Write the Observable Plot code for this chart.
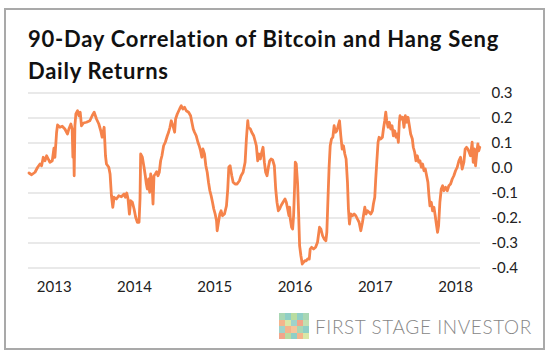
<!DOCTYPE html>
<html><head><meta charset="utf-8">
<script src="https://cdn.jsdelivr.net/npm/d3@7"></script>
<script src="https://cdn.jsdelivr.net/npm/@observablehq/plot@0.6"></script>
<style>
body{margin:0;background:#fff;}
#frame{position:relative;width:550px;height:355px;overflow:hidden;font-family:Lato,"Noto Sans",sans-serif;background:#fff;}
#box{position:absolute;left:4px;top:8px;width:537px;height:338px;border:2px solid #a9a9a9;}
#title{position:absolute;left:28px;top:23px;font-weight:700;font-size:22px;letter-spacing:0.75px;line-height:32px;color:#111;white-space:nowrap;}
#chart{position:absolute;left:0;top:85px;}
#logo{position:absolute;left:279px;top:313px;display:flex;align-items:center;}
#icon{display:grid;grid-template-columns:repeat(5,6px);grid-template-rows:repeat(4,6.5px);margin-right:6px;}
#icon div{width:6px;height:6.5px;}
#logotext{font-weight:300;font-size:19px;color:#878787;letter-spacing:0.6px;white-space:nowrap;}
</style></head>
<body>
<div id="frame">
  <div id="box"></div>
  <div id="title">90-Day Correlation of Bitcoin and Hang Seng<br>Daily Returns</div>
  <div id="chart"></div>
  <div id="logo"><div id="icon"></div><div id="logotext">FIRST STAGE INVESTOR</div></div>
</div>
<script>
// decimal-year dates and 90-day correlation values
const dates = [
 2012.686,2012.719,2012.761,2012.794,2012.823,2012.843,2012.864,2012.885,2012.906,2012.926,2012.947,2012.976,2012.997,2013.009,2013.030,2013.042,2013.071,2013.100,2013.133,2013.166,2013.183,2013.208,2013.224,2013.233,2013.241,2013.249,2013.258,2013.270,2013.291,2013.307,2013.324,2013.340,2013.365,2013.402,2013.444,2013.473,2013.498,2013.527,2013.556,2013.580,2013.597,2013.622,2013.639,2013.651,2013.680,2013.696,2013.713,2013.730,2013.746,2013.775,2013.804,2013.837,2013.870,2013.887,2013.904,2013.920,2013.937,2013.953,2013.974,2013.995,2014.015,2014.036,2014.057,2014.069,2014.077,
 2014.098,2014.119,2014.135,2014.148,2014.160,2014.177,2014.189,2014.202,2014.218,2014.231,2014.243,2014.260,2014.276,2014.293,2014.309,2014.326,2014.342,2014.363,2014.384,2014.409,2014.425,2014.442,2014.458,2014.479,2014.500,2014.512,2014.533,2014.562,2014.583,2014.603,2014.624,2014.645,2014.674,2014.699,2014.715,2014.732,2014.748,2014.769,2014.790,2014.806,2014.823,2014.839,2014.852,2014.872,2014.889,2014.906,2014.922,2014.939,2014.955,2014.972,2014.988,2015.005,2015.022,2015.030,2015.046,2015.063,2015.079,2015.096,2015.121,2015.146,2015.162,2015.175,2015.191,2015.212,2015.229,2015.253,2015.278,2015.307,2015.328,2015.353,2015.378,2015.394,2015.411,
 2015.419,2015.444,2015.460,2015.485,2015.502,2015.518,2015.535,2015.552,2015.568,2015.585,2015.601,2015.618,2015.634,2015.651,2015.668,2015.684,2015.701,2015.721,2015.742,2015.759,2015.775,2015.792,2015.808,2015.825,2015.850,2015.875,2015.891,2015.908,2015.924,2015.933,2015.941,2015.957,2015.970,2015.982,2015.995,2016.003,2016.015,2016.032,2016.044,2016.057,2016.073,2016.090,2016.106,2016.123,2016.140,2016.156,2016.177,2016.189,2016.206,2016.231,2016.256,2016.280,2016.305,2016.322,2016.343,2016.363,2016.384,2016.396,2016.413,2016.425,2016.438,2016.454,2016.471,2016.487,2016.504,2016.521,2016.537,2016.554,2016.570,2016.587,2016.603,2016.620,2016.636,2016.653,2016.665,2016.678,2016.694,2016.715,2016.736,2016.757,2016.777,2016.798,
 2016.819,2016.840,2016.852,2016.869,2016.885,2016.902,2016.922,2016.943,2016.964,2016.976,2016.993,2017.005,2017.018,2017.034,2017.047,2017.067,2017.088,2017.101,2017.117,2017.130,2017.142,2017.159,2017.175,2017.192,2017.208,2017.225,2017.241,2017.258,2017.274,2017.287,2017.299,2017.308,2017.324,2017.341,2017.357,2017.374,2017.390,2017.407,2017.424,2017.440,2017.461,2017.473,2017.490,2017.506,2017.523,2017.540,2017.556,2017.573,2017.589,2017.606,2017.622,2017.639,2017.655,2017.668,2017.680,2017.697,2017.713,2017.730,2017.746,2017.763,2017.775,2017.788,2017.804,2017.821,2017.838,2017.854,2017.875,2017.896,2017.916,2017.937,2017.958,2017.978,2017.999,2018.020,2018.041,2018.061,2018.082,2018.103,2018.119,2018.136,2018.152,2018.169,2018.185,2018.206,2018.219,2018.235,2018.248,2018.260,2018.277,2018.289,2018.301
];
const corr = [
 -0.020,-0.027,-0.017,0.003,0.016,0.009,0.043,0.029,0.049,0.036,0.023,0.029,0.079,0.043,0.143,0.172,0.163,0.167,0.156,0.136,0.156,0.176,0.156,0.043,0.129,-0.031,0.169,0.216,0.229,0.209,0.223,0.169,0.180,0.183,0.189,0.209,0.223,0.196,0.176,0.149,0.123,0.163,0.049,0.016,0.003,-0.024,-0.111,-0.157,-0.117,-0.124,-0.111,-0.115,-0.104,-0.117,-0.100,-0.124,-0.184,-0.131,-0.137,-0.164,-0.197,-0.217,-0.217,-0.124,0.056,
 0.043,0.003,-0.031,-0.064,-0.084,-0.044,-0.097,-0.024,-0.057,-0.144,-0.031,-0.024,-0.015,-0.031,-0.017,0.029,0.049,0.089,0.103,0.129,0.143,0.163,0.189,0.169,0.143,0.196,0.216,0.236,0.249,0.236,0.243,0.229,0.223,0.209,0.183,0.156,0.143,0.129,0.103,0.089,0.069,0.043,0.076,0.056,0.009,-0.017,-0.057,-0.091,-0.111,-0.137,-0.164,-0.184,-0.211,-0.251,-0.217,-0.184,-0.171,-0.191,-0.184,-0.151,-0.084,0.003,0.009,-0.031,-0.057,-0.064,-0.064,-0.051,-0.031,-0.017,0.023,0.116,0.189,
 0.163,0.156,0.143,0.129,0.109,0.089,0.029,0.056,0.036,0.063,0.083,0.023,-0.017,-0.031,0.003,0.029,0.036,0.032,0.009,-0.084,-0.137,-0.171,-0.164,-0.151,-0.137,-0.124,-0.137,-0.164,-0.191,-0.157,-0.204,-0.237,-0.244,-0.191,-0.071,0.023,0.016,-0.064,-0.177,-0.311,-0.351,-0.384,-0.377,-0.371,-0.371,-0.364,-0.364,-0.324,-0.317,-0.324,-0.317,-0.297,-0.237,-0.244,-0.271,-0.284,-0.291,-0.257,-0.097,0.009,0.089,0.116,0.123,0.169,0.143,0.149,0.169,0.189,0.129,0.076,0.089,0.056,0.036,-0.057,-0.164,-0.224,-0.184,-0.191,-0.184,-0.191,-0.204,-0.217,
 -0.251,-0.217,-0.191,-0.157,-0.184,-0.171,-0.177,-0.184,-0.171,-0.144,-0.117,-0.044,0.023,0.103,0.123,0.116,0.123,0.156,0.189,0.223,0.189,0.163,0.183,0.156,0.169,0.129,0.149,0.123,0.136,0.103,0.183,0.209,0.196,0.203,0.163,0.209,0.183,0.203,0.169,0.136,0.116,0.083,0.063,0.029,0.049,0.023,0.029,0.003,0.016,-0.011,-0.004,-0.031,-0.057,-0.111,-0.151,-0.137,-0.171,-0.157,-0.191,-0.231,-0.257,-0.231,-0.137,-0.084,-0.071,-0.091,-0.077,-0.091,-0.071,-0.064,-0.044,-0.031,-0.011,0.003,0.029,0.043,-0.004,0.023,0.076,0.083,0.076,0.063,0.049,0.103,0.023,0.076,0.009,0.049,0.096,0.069,0.083
];
const xTicks = [2013, 2014, 2015, 2016, 2017, 2018];
const xTickLabels = ["2013", "2014", "2015", "2016", "2017", "2018"];
const yTicks = [0.3, 0.2, 0.1, 0.0, -0.1, -0.2, -0.3, -0.4];
const yTickLabels = ["0.3", "0.2", "0.1", "0.0", "-0.1", "-0.2.", "-0.3", "-0.4"];

const n = Math.min(dates.length, corr.length);
const rows = d3.range(n).map(i => ({t: dates[i], v: corr[i]}));

const lab = (ticks, labels) => d => {
  const i = ticks.findIndex(t => Math.abs(t - d) < 1e-9);
  return i >= 0 ? labels[i] : "";
};

const chart = Plot.plot({
  width: 550,
  height: 215,
  marginLeft: 28,
  marginRight: 70,
  marginTop: 7.5,
  marginBottom: 32.5,
  style: {fontFamily: "Lato, 'Noto Sans', sans-serif", fontSize: "15px", color: "#222", background: "transparent", overflow: "visible"},
  x: {domain: [2012.68, 2018.31]},
  y: {domain: [-0.4, 0.3]},
  marks: [
    Plot.gridY(yTicks, {stroke: "#d3d3d3", strokeOpacity: 1, strokeWidth: 1}),
    Plot.axisY(yTicks, {anchor: "right", tickSize: 0, tickPadding: 11, tickFormat: lab(yTicks, yTickLabels), label: null}),
    Plot.axisX(xTicks, {anchor: "bottom", tickSize: 0, tickPadding: 13, tickFormat: lab(xTicks, xTickLabels), label: null}),
    Plot.line(rows, {x: "t", y: "v", stroke: "#f5834b", strokeWidth: 2.8, strokeLinejoin: "round"})
  ]
});
document.getElementById("chart").appendChild(chart);

// logo icon squares
const iconColors = [
  "#a9d7b4","#8fcfc6","#b9dca0","#8fcfc6","#a9d7b4",
  "#f4b48c","#d9e7a6","#9fd3cb","#f2a58a","#c3dfb0",
  "#9fd3cb","#f4b48c","#f7c49a","#a9d7b4","#8fcfc6",
  "#f2a58a","#b9dca0","#8fcfc6","#f4b48c","#d9e7a6"
];
const icon = document.getElementById("icon");
iconColors.forEach(c => { const d = document.createElement("div"); d.style.background = c; icon.appendChild(d); });
</script>
</body></html>
